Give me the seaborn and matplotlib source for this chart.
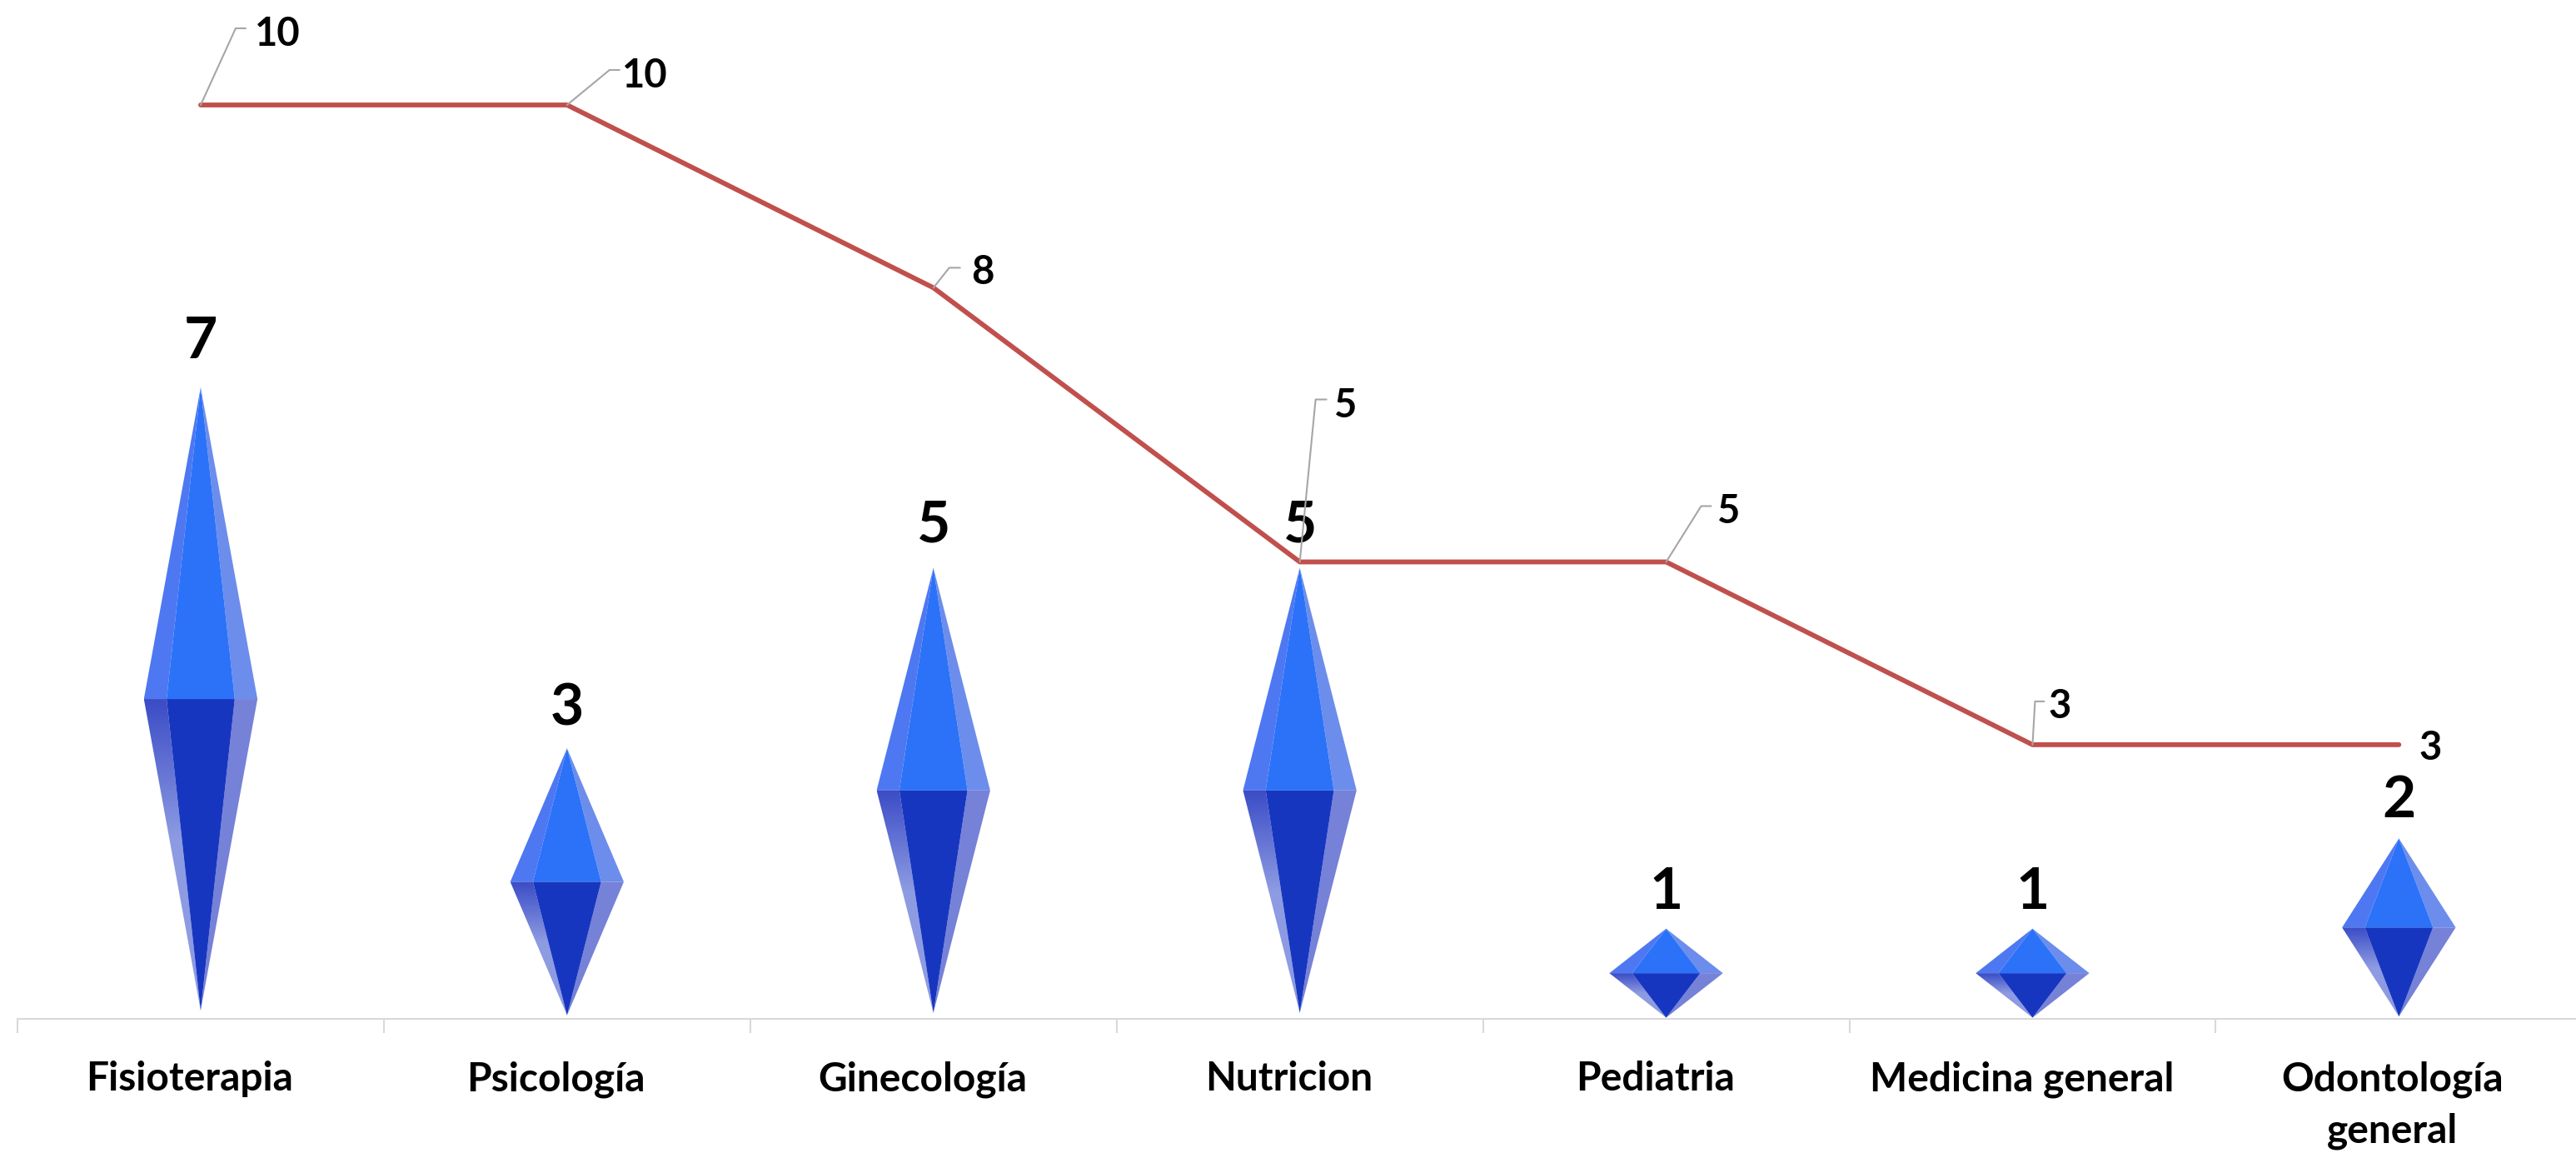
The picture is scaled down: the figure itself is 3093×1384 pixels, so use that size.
import numpy as np
import matplotlib

matplotlib.use("Agg")

import matplotlib.pyplot as plt
import seaborn as sns
from matplotlib.colors import LinearSegmentedColormap
from matplotlib.patches import Polygon
from matplotlib.transforms import IdentityTransform

CATEGORIES = ["Fisioterapia", "Psicología", "Ginecología", "Nutricion",
              "Pediatria", "Medicina general", "Odontología\ngeneral"]
BAR_VALUES = [7, 3, 5, 5, 1, 1, 2]
LINE_VALUES = [10, 10, 8, 5, 5, 3, 3]

WIDTH, HEIGHT = 3093, 1384
DPI = 100
AXIS_LEFT = 21
AXIS_Y = 1223
CATEGORY_STEP = 439.9
UNIT_PX = 109.7

# leader elbow, leader end and text start, in pixels from the line point
LEADERS = [
    ((42, 92), (54, 92), (65, 71)),
    ((51, 42), (63, 42), (66, 21)),
    ((19, 24), (32, 24), (45, 4)),
    ((19, 195), (32, 195), (41, 173)),
    ((42, 67), (54, 67), (61, 46)),
    ((3, 52), (14, 52), (19, 32)),
    (None, None, (24, -18)),
]
LABEL_SHIFT = [-13, -13, -13, -13, -13, -13, -8]

sns.set_theme(style="white")
plt.rcParams["font.family"] = ["Lato", "DejaVu Sans"]

fig = plt.figure(figsize=(WIDTH / DPI, HEIGHT / DPI), dpi=DPI)
ax = fig.add_axes([AXIS_LEFT / WIDTH, (HEIGHT - AXIS_Y) / HEIGHT,
                   1 - AXIS_LEFT / WIDTH, AXIS_Y / HEIGHT])

sns.barplot(x=CATEGORIES, y=BAR_VALUES, order=CATEGORIES, width=0.31,
            color="#2B70F5", alpha=0, ax=ax)
sns.lineplot(x=np.arange(len(CATEGORIES)), y=LINE_VALUES, color="#C0504D",
             linewidth=4.2, sort=False, ax=ax, zorder=5,
             solid_capstyle="round", errorbar=None)


def gradient_facet(points, colors, stop_low, stop_high):
    patch = Polygon(points, closed=True, facecolor="none", edgecolor="none")
    ax.add_patch(patch)
    cmap = LinearSegmentedColormap.from_list("facet", colors)
    ramp = np.clip(np.linspace(0, 1, 200) / stop_high, 0, 1)[:, None]
    image = ax.imshow(ramp, cmap=cmap, aspect="auto", vmin=0, vmax=1,
                      extent=[min(p[0] for p in points), max(p[0] for p in points),
                              stop_low[0], stop_low[1]], origin="upper", zorder=2)
    image.set_clip_path(patch)


bars = list(ax.patches)
for bar in bars:
    left, width, height = bar.get_x(), bar.get_width(), bar.get_height()
    center = left + width / 2
    inset = height * 0.013
    top = height - inset
    bottom = inset
    mid = height / 2
    half = width / 2
    inner = half * 0.6

    ax.add_patch(Polygon([(center, top), (center - half, mid), (center - inner, mid)],
                         facecolor="#4E78F2", edgecolor="none", zorder=2))
    ax.add_patch(Polygon([(center, top), (center + half, mid), (center + inner, mid)],
                         facecolor="#6C8DEC", edgecolor="none", zorder=2))
    ax.add_patch(Polygon([(center, top), (center - inner, mid), (center + inner, mid)],
                         facecolor="#2B72F8", edgecolor="none", zorder=2))
    gradient_facet([(center, bottom), (center - half, mid), (center - inner, mid)],
                   ["#3B4CC6", "#8D9BE2"], (bottom, mid), 0.45)
    ax.add_patch(Polygon([(center, bottom), (center + half, mid), (center + inner, mid)],
                         facecolor="#7681D8", edgecolor="none", zorder=2))
    ax.add_patch(Polygon([(center, bottom), (center - inner, mid), (center + inner, mid)],
                         facecolor="#1736C0", edgecolor="none", zorder=3))

    ax.annotate(f"{height:.0f}", (center, top), xytext=(0, 16 + 1.3 * height),
                textcoords="offset points", ha="center", va="baseline", fontsize=50,
                fontweight="bold", color="black", zorder=4)

ax.set_yticks([])
ax.set_xlabel("")
ax.set_ylabel("")
for side in ["top", "left", "right"]:
    ax.spines[side].set_visible(False)
ax.spines["bottom"].set_color("#D9D9D9")
ax.spines["bottom"].set_linewidth(1.5)

ax.set_xticks(np.arange(len(CATEGORIES)))
ax.set_xticklabels([])
ax.tick_params(axis="x", which="major", length=0)
ax.set_xticks(np.arange(len(CATEGORIES) + 1) - 0.5, minor=True)
ax.tick_params(axis="x", which="minor", length=12.5, width=1.5, color="#D9D9D9", bottom=True)

# the labels sit a little left of their category
for index, (name, shift) in enumerate(zip(CATEGORIES, LABEL_SHIFT)):
    ax.annotate(name, (index, 0), xytext=(shift * 0.72, -36), textcoords="offset points",
                ha="center", va="top", fontsize=34.5, fontweight="bold", color="black",
                linespacing=1.5, annotation_clip=False)

ax.set_xlim(-0.5, (WIDTH - AXIS_LEFT) / CATEGORY_STEP - 0.5)
ax.set_ylim(0, AXIS_Y / UNIT_PX)

fig.canvas.draw()
for index, (value, leader) in enumerate(zip(LINE_VALUES, LEADERS)):
    px, py = ax.transData.transform((index, value))
    elbow, end, text_pos = leader
    if elbow is not None:
        ax.plot([px, px + elbow[0], px + end[0]], [py, py + elbow[1], py + end[1]],
                color="#A6A6A6", linewidth=1.5, transform=IdentityTransform(),
                clip_on=False, zorder=6)
    fig.text((px + text_pos[0]) / WIDTH, (py + text_pos[1]) / HEIGHT, str(value),
             fontsize=34, fontweight="bold", color="black", ha="left", va="baseline", zorder=7)

fig.savefig("out.png", dpi=DPI, facecolor="white")
